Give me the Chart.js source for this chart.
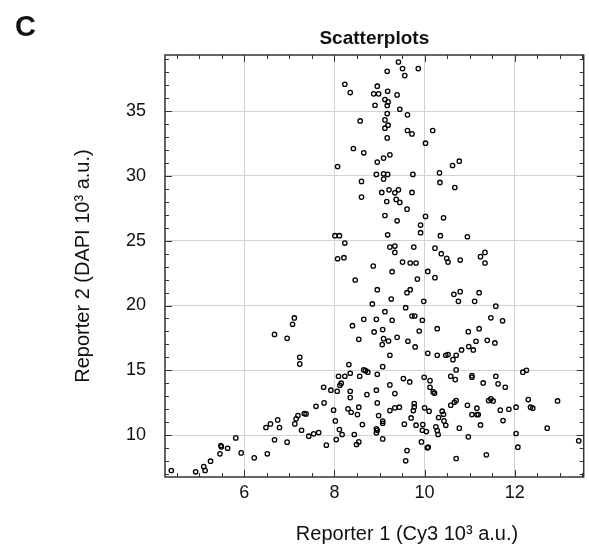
<!DOCTYPE html>
<html>
<head>
<meta charset="utf-8">
<title>Scatterplots</title>
<script src="https://cdn.jsdelivr.net/npm/chart.js@4.4.1/dist/chart.umd.min.js"></script>
<style>
  html, body { margin: 0; padding: 0; background: #fff; }
</style>
</head>
<body>
<canvas id="scatterChart" width="589" height="546"></canvas>
<script>
// Reporter 1 (Cy3) values
const xValues = [
    9.42, 9.51, 9.86, 9.17, 9.56, 8.23, 8.95, 8.35, 8.87, 8.98, 9.18, 9.39, 9.12, 9.19, 8.90, 9.17, 9.45, 9.17, 9.62, 8.57,
    9.12, 9.19, 9.12, 9.62, 9.72, 10.18, 9.17, 10.02, 8.42, 8.65, 9.23, 9.09, 8.95, 8.07, 10.77, 10.62, 8.93, 9.09, 9.18, 9.09,
    9.74, 10.33, 8.60, 10.34, 10.67, 9.21, 9.05, 9.42, 9.34, 9.72, 8.60,
    9.16, 9.37, 9.45, 9.61, 9.12, 9.39, 10.02, 10.42, 9.91, 9.91, 9.18, 8.01, 8.11, 10.35, 10.95, 8.23, 9.23, 9.34, 9.34, 9.76,
    10.23, 10.37, 10.49, 10.52, 10.79, 11.24, 11.34, 11.34, 8.07, 8.21, 8.86, 9.51, 9.68, 9.81, 9.28, 10.07, 10.23, 9.84, 8.46, 8.95,
    9.61, 9.68, 10.65, 10.79, 11.21, 9.26, 8.84, 9.98, 10.75, 11.11, 9.58, 9.12, 9.72, 9.78, 7.11, 7.07, 8.65, 8.93, 9.28, 9.95,
    8.40, 10.28, 9.07, 8.88, 9.88, 10.97, 11.21, 6.95, 8.54, 9.09, 9.20, 9.39, 9.63, 11.14, 11.58, 11.47, 11.73, 6.67,
    7.23, 7.23, 5.81, 5.48, 5.49, 5.63, 5.46, 5.93, 5.25, 5.10, 5.13, 4.92, 4.38, 6.22, 6.51, 6.48, 6.58, 6.74, 6.78, 6.67,
    6.95, 7.12, 7.15, 7.19, 7.33, 7.37, 7.27,
    9.06, 9.79, 9.23, 10.07, 10.28, 10.47, 8.32, 9.07, 8.65, 8.69, 8.74, 8.09, 8.23, 8.35, 8.56, 8.95, 9.53, 9.67, 9.99, 10.12,
    8.15, 8.12, 9.23, 10.12, 10.19, 10.22, 7.76, 7.92, 8.06, 8.35, 8.35, 8.72, 8.93, 9.34, 8.95, 7.77, 7.59, 7.98, 8.30, 8.37,
    8.51, 8.54, 9.23, 9.34, 9.44, 9.77, 9.77, 9.75, 9.70, 10.00, 10.10, 10.39, 10.31, 10.43, 8.98, 9.07, 9.07, 8.02, 8.62, 9.55,
    9.81, 9.96, 9.95, 10.04, 10.25, 10.28, 10.30, 8.93, 8.95, 8.93, 9.07, 7.43, 7.54, 7.65, 8.11, 8.17, 8.04, 8.44, 7.82, 8.49,
    8.54, 9.93, 10.06, 10.08, 9.61, 9.58, 10.42, 10.47,
    11.39, 11.56, 10.52, 10.63, 10.70, 10.82, 10.98, 11.08, 10.70, 10.58, 10.68, 11.05, 11.05, 11.30, 11.58, 11.63, 11.79, 12.18, 12.26, 10.58,
    10.66, 10.70, 10.95, 11.16, 11.05, 11.16, 11.19, 11.42, 11.47, 11.52, 11.68, 11.87, 12.03, 12.30, 12.35, 12.40, 12.95, 10.77, 11.24, 11.74,
    12.72, 10.97, 12.03, 12.07, 13.42, 10.70, 11.37
];

// Reporter 2 (DAPI) values, same order
const yValues = [
    38.80, 38.29, 38.29, 38.08, 37.75, 37.08, 36.93, 36.44, 36.34, 36.34, 36.54, 36.26, 35.90, 35.72, 35.46, 35.44, 35.15, 34.82, 34.72, 34.25,
    34.33, 33.92, 33.69, 33.51, 33.25, 33.51, 32.94, 32.53, 32.12, 31.79, 31.63, 31.38, 31.07, 30.73, 31.14, 30.81, 30.12, 30.17, 30.12, 29.76,
    30.12, 30.24, 29.58, 29.50, 29.11, 28.93, 28.73, 28.93, 28.70, 28.73, 28.37,
    28.03, 28.19, 27.96, 27.44, 26.95, 26.54, 26.88, 26.77, 26.21, 25.62, 25.46, 25.39, 25.39, 25.39, 25.31, 24.82, 24.51, 24.59, 24.10, 24.51,
    24.43, 24.00, 23.64, 23.35, 23.51, 23.77, 24.10, 23.28, 23.61, 23.69, 23.05, 23.35, 23.28, 23.28, 22.61, 22.63, 22.15, 22.04, 21.97, 21.22,
    20.99, 21.22, 20.86, 21.07, 20.99, 20.50, 20.12, 20.32, 20.32, 20.32, 19.83, 19.52, 19.19, 19.19, 19.04, 18.55, 18.93, 18.93, 18.86, 18.86,
    18.44, 18.21, 18.14, 17.96, 18.03, 17.98, 18.21, 17.47, 17.39, 17.44, 17.26, 17.54, 17.24, 17.24, 19.95, 19.05, 18.82, 17.77,
    16.00, 15.49, 9.78, 9.19, 9.09, 8.98, 8.55, 8.62, 7.98, 7.57, 7.26, 7.16, 7.26, 8.24, 8.55, 10.58, 10.86, 11.17, 10.58, 9.63,
    9.45, 10.86, 11.25, 11.50, 11.66, 11.63, 10.37,
    16.98, 16.80, 16.16, 16.31, 16.16, 16.16, 15.44, 15.28, 15.03, 14.97, 14.85, 14.54, 14.54, 14.77, 14.54, 14.69, 14.36, 14.10, 14.46, 14.20,
    14.00, 13.84, 13.87, 13.69, 13.33, 13.23, 13.69, 13.46, 13.38, 13.38, 12.89, 13.12, 13.46, 13.20, 12.48, 12.48, 12.22, 11.92, 12.02, 11.76,
    11.58, 12.15, 11.89, 12.10, 12.15, 12.43, 12.17, 11.89, 11.32, 12.10, 11.84, 11.84, 11.35, 11.09, 11.50, 11.07, 10.91, 11.09, 10.81, 10.84,
    10.76, 10.81, 10.37, 10.27, 10.63, 10.35, 10.04, 10.48, 10.37, 10.17, 9.70, 9.91, 10.09, 10.19, 10.42, 10.04, 9.65, 10.04, 9.22, 9.27,
    9.47, 9.47, 9.01, 9.06, 8.80, 8.01, 11.60, 10.75,
    17.31, 17.11, 16.21, 15.82, 16.16, 16.57, 16.83, 16.57, 15.03, 14.54, 14.28, 14.59, 14.46, 14.02, 14.54, 13.95, 13.69, 14.85, 15.00, 12.30,
    12.53, 12.66, 12.30, 12.07, 11.58, 11.58, 11.58, 12.66, 12.79, 12.63, 11.92, 11.99, 12.15, 12.74, 12.15, 12.07, 12.63, 10.53, 10.78, 11.12,
    10.53, 9.86, 10.12, 9.06, 9.55, 8.19, 8.47
];

const xTickValues = [6, 8, 10, 12];
const yTickValues = [10, 15, 20, 25, 30, 35];

const fontFamily = '"Liberation Sans", Arial, Helvetica, sans-serif';

// рамка, внутренние засечки и подписи
const frameAndLabels = {
    id: 'frameAndLabels',
    afterDraw(chart) {
        const { ctx, chartArea: a, scales } = chart;
        const x = scales.x;
        const y = scales.y;
        ctx.save();

        ctx.strokeStyle = '#333';
        ctx.lineWidth = 1;
        ctx.beginPath();
        for (let v = 4.5; v <= 13.5; v += 0.5) {
            const px = Math.round(x.getPixelForValue(v)) + 0.5;
            const len = v % 2 === 0 ? 7 : 4;
            ctx.moveTo(px, a.top); ctx.lineTo(px, a.top + len);
            ctx.moveTo(px, a.bottom); ctx.lineTo(px, a.bottom - len);
        }
        for (let v = 7; v <= 39; v += 1) {
            const py = Math.round(y.getPixelForValue(v)) + 0.5;
            const len = v % 5 === 0 ? 7 : 4;
            ctx.moveTo(a.left, py); ctx.lineTo(a.left + len, py);
            ctx.moveTo(a.right, py); ctx.lineTo(a.right - len, py);
        }
        ctx.stroke();

        ctx.lineWidth = 1.5;
        ctx.strokeRect(a.left, a.top, a.right - a.left, a.bottom - a.top);

        ctx.fillStyle = '#111';
        ctx.textBaseline = 'alphabetic';

        ctx.font = 'bold 29px ' + fontFamily;
        ctx.textAlign = 'left';
        ctx.fillText('C', 15, 36);

        ctx.font = 'bold 19px ' + fontFamily;
        ctx.textAlign = 'center';
        ctx.fillText('Scatterplots', (a.left + a.right) / 2, 44);

        ctx.font = '20px ' + fontFamily;
        ctx.fillText('Reporter 1 (Cy3 10³ a.u.)', 407, 540);

        ctx.translate(89, (a.top + a.bottom) / 2);
        ctx.rotate(-Math.PI / 2);
        ctx.fillText('Reporter 2 (DAPI 10³ a.u.)', 0, 0);

        ctx.restore();
    }
};

const points = xValues.map((v, i) => ({ x: v, y: yValues[i] }));

const ctx = document.getElementById('scatterChart').getContext('2d');
const scatterChart = new Chart(ctx, {
    type: 'scatter',
    data: {
        datasets: [{
            label: 'Scatterplots',
            data: points,
            pointStyle: 'circle',
            pointRadius: 2.2,
            pointBorderWidth: 1.3,
            pointBorderColor: '#000',
            pointBackgroundColor: 'rgba(0, 0, 0, 0)'
        }]
    },
    options: {
        responsive: false,
        animation: false,
        layout: { padding: { top: 55, right: 2, left: 0, bottom: 0 } },
        plugins: {
            legend: { display: false },
            tooltip: { enabled: false }
        },
        scales: {
            x: {
                type: 'linear',
                min: 4.24,
                max: 13.53,
                afterBuildTicks: s => { s.ticks = xTickValues.map(v => ({ value: v })); },
                afterFit: s => { s.height = 69; },
                grid: { color: '#d2d2d2', lineWidth: 1, drawTicks: false },
                border: { display: false },
                ticks: { padding: 5, color: '#111', font: { family: fontFamily, size: 18 } }
            },
            y: {
                type: 'linear',
                min: 6.76,
                max: 39.34,
                afterBuildTicks: s => { s.ticks = yTickValues.map(v => ({ value: v })); },
                afterFit: s => { s.width = 165; },
                grid: { color: '#d2d2d2', lineWidth: 1, drawTicks: false },
                border: { display: false },
                ticks: { padding: 19, color: '#111', font: { family: fontFamily, size: 18 } }
            }
        }
    },
    plugins: [frameAndLabels]
});
</script>
</body>
</html>
